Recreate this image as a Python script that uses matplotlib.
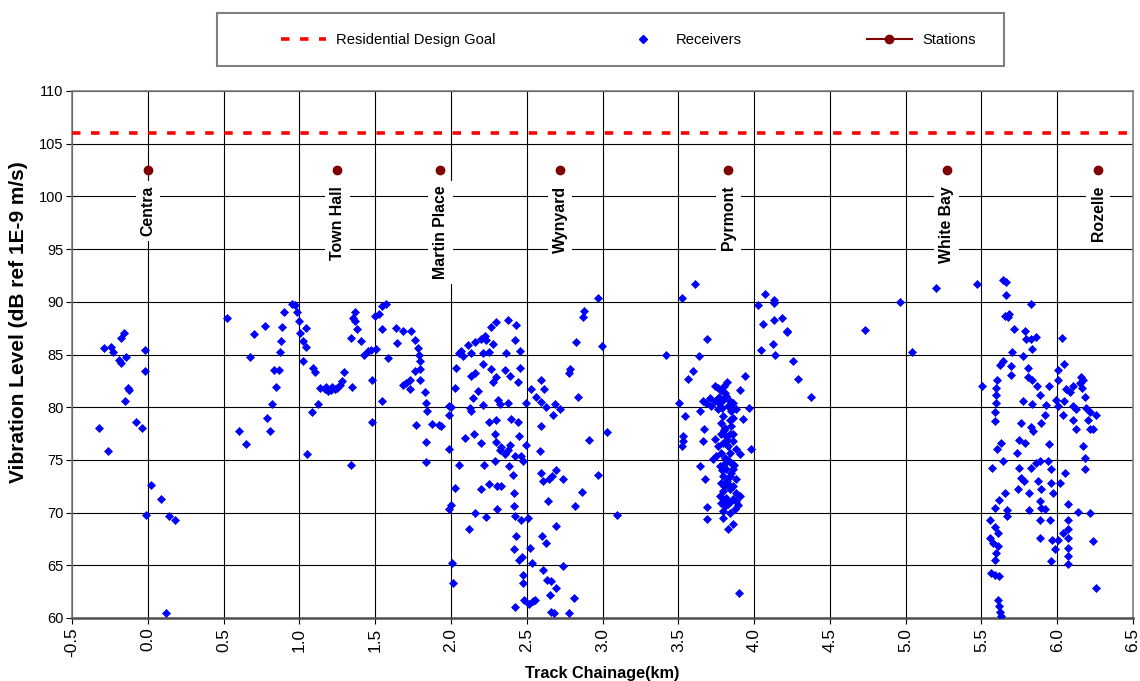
import numpy as np
import matplotlib
matplotlib.use("Agg")
import matplotlib.pyplot as plt
from matplotlib.lines import Line2D
from matplotlib.patches import Rectangle

plt.rcParams['font.family'] = ['Liberation Sans', 'DejaVu Sans']
plt.rcParams['lines.scale_dashes'] = False

# ---------------- data ----------------
design_goal = 106

station_names = ["Centra", "Town Hall", "Martin Place", "Wynyard", "Pyrmont", "White Bay", "Rozelle"]
station_x = [0.0, 1.25, 1.93, 2.72, 3.83, 5.27, 6.27]
station_y = [102.5, 102.5, 102.5, 102.5, 102.5, 102.5, 102.5]

x_ticks = [-0.5, 0.0, 0.5, 1.0, 1.5, 2.0, 2.5, 3.0, 3.5, 4.0, 4.5, 5.0, 5.5, 6.0, 6.5]
y_ticks = [60, 65, 70, 75, 80, 85, 90, 95, 100, 105, 110]

central_pts = [
    (-0.32, 78.0), (-0.26, 75.8), (-0.29, 85.6), (-0.245, 85.7), (-0.23, 85.2), (-0.19, 84.5),
    (-0.175, 84.2), (-0.146, 84.8), (-0.18, 86.6), (-0.16, 87.0), (-0.13, 81.8), (-0.126, 81.6),
    (-0.15, 80.6), (-0.075, 78.6), (-0.036, 78.0), (-0.02, 85.4), (-0.02, 83.4), (0.024, 72.6),
    (0.09, 71.3), (-0.01, 69.8), (0.14, 69.7), (0.177, 69.3), (0.118, 60.5),
]

townhall_pts = [
    (0.52, 88.5), (0.60, 77.7), (0.646, 76.5), (0.672, 84.8), (0.70, 86.9), (0.774, 87.75),
    (0.787, 79.0), (0.804, 77.7), (0.822, 80.3), (0.848, 81.9), (0.833, 83.5), (0.864, 83.5),
    (0.875, 85.2), (0.88, 86.3), (0.888, 87.6), (0.897, 89.0), (0.952, 89.8), (0.974, 89.7),
    (0.985, 89.0), (0.998, 88.2), (1.007, 87.0), (1.024, 86.3), (1.046, 85.7), (1.046, 87.5),
    (1.024, 84.4), (1.09, 83.7), (1.106, 83.3), (1.049, 75.6), (1.086, 79.5), (1.123, 80.3),
    (1.139, 81.84), (1.167, 81.68), (1.189, 81.52), (1.211, 81.6), (1.233, 81.7), (1.249, 81.8),
    (1.266, 82.1), (1.284, 82.5), (1.293, 83.3), (1.218, 81.9), (1.178, 81.9), (1.346, 81.9),
    (1.339, 74.5), (1.339, 86.6), (1.354, 88.5), (1.365, 89.0), (1.383, 87.4), (1.37, 88.2),
    (1.405, 86.3), (1.427, 85.0), (1.453, 85.3), (1.475, 85.4), (1.504, 85.5), (1.48, 82.6),
    (1.48, 78.6), (1.497, 88.7), (1.526, 88.8), (1.544, 89.6), (1.57, 89.75), (1.548, 87.4),
    (1.585, 84.7), (1.548, 80.6), (1.64, 87.5), (1.645, 86.1), (1.685, 87.2), (1.739, 87.2),
    (1.761, 86.4), (1.783, 85.6), (1.79, 85.0), (1.795, 84.4), (1.761, 83.4), (1.795, 83.6),
    (1.795, 82.6), (1.73, 82.6), (1.684, 82.1), (1.706, 82.3), (1.728, 81.7), (1.827, 81.4),
    (1.838, 80.4), (1.843, 79.6), (1.768, 78.3), (1.876, 78.4), (1.92, 78.3), (1.934, 78.2),
    (1.834, 76.7), (1.834, 74.8),
]

wynyard_pts = [
    (1.985, 80.1), (1.99, 79.3), (1.985, 76.0), (1.985, 70.35),
    (2.377, 88.3), (2.432, 87.8), (2.30, 88.1), (2.267, 87.6), (2.223, 86.8), (2.201, 86.5),
    (2.234, 86.4), (2.157, 86.2), (2.113, 85.9), (2.278, 86.0), (2.421, 86.4), (2.069, 85.3),
    (2.054, 85.1), (2.08, 84.9), (2.135, 85.1), (2.212, 85.1), (2.251, 85.2), (2.366, 85.1),
    (2.458, 85.3), (2.212, 84.1), (2.036, 83.7), (2.267, 83.6), (2.355, 83.5), (2.388, 83.0),
    (2.454, 83.7), (2.135, 83.0), (2.157, 83.2), (2.30, 82.9), (2.278, 82.4), (2.443, 82.4),
    (2.025, 81.8), (2.179, 81.5), (2.146, 80.9), (2.311, 80.7), (2.322, 80.3), (2.377, 80.4),
    (2.212, 80.2), (2.003, 80.0), (2.124, 79.9), (2.135, 79.6), (2.597, 82.6), (2.614, 81.7),
    (2.531, 81.7), (2.559, 81.0), (2.597, 80.5), (2.498, 80.4), (2.63, 80.0), (2.251, 78.6),
    (2.30, 78.8), (2.399, 78.9), (2.443, 78.6), (2.091, 77.1), (2.15, 77.5), (2.196, 76.6),
    (2.289, 77.5), (2.30, 76.7), (2.333, 76.2), (2.388, 76.4), (2.449, 77.3), (2.498, 76.4),
    (2.597, 78.2), (2.586, 75.8), (2.322, 75.9), (2.355, 75.6), (2.377, 75.9), (2.421, 75.4),
    (2.465, 75.4),
    (2.0, 70.7), (2.004, 65.2), (2.015, 63.3), (2.029, 72.3), (2.05, 74.5), (2.117, 68.4),
    (2.16, 70.0), (2.198, 72.2), (2.231, 69.6), (2.216, 74.5), (2.253, 72.75), (2.29, 74.9),
    (2.301, 72.5), (2.306, 70.35), (2.33, 72.5), (2.385, 74.4), (2.411, 73.6), (2.418, 71.9),
    (2.418, 70.6), (2.418, 66.5), (2.425, 61.0), (2.425, 69.65), (2.429, 67.8), (2.451, 65.5),
    (2.462, 69.3), (2.468, 65.8), (2.473, 74.9), (2.477, 63.3), (2.477, 64.1), (2.484, 61.7),
    (2.506, 69.5), (2.512, 61.3), (2.523, 66.6), (2.535, 65.2), (2.539, 61.6), (2.557, 61.7),
    (2.594, 73.8), (2.6, 67.8), (2.605, 64.6), (2.609, 73.0), (2.627, 67.1), (2.633, 63.6),
    (2.638, 71.1), (2.645, 73.2), (2.651, 62.2), (2.662, 60.6), (2.662, 63.5), (2.668, 73.45),
    (2.68, 60.5), (2.69, 68.7), (2.692, 74.0), (2.692, 62.8), (2.737, 73.2), (2.741, 64.9),
    (2.781, 60.5), (2.814, 61.9), (2.818, 70.6), (2.862, 72.0), (2.968, 73.6), (3.093, 69.8),
    (2.671, 79.3), (2.686, 80.35), (2.72, 79.8), (2.776, 83.2), (2.785, 83.6), (2.836, 80.95),
    (2.825, 86.2), (2.869, 88.6), (2.88, 89.1), (2.908, 76.9), (2.972, 90.4), (2.996, 85.8),
    (3.027, 77.6), (3.42, 85.0),
]

pyrmont_pts = [
    (3.522, 90.4), (3.61, 91.7), (3.689, 86.5), (3.638, 84.85), (3.599, 83.4), (3.566, 82.7),
    (3.502, 80.4), (3.544, 79.2), (3.529, 76.8), (3.525, 76.3), (3.529, 77.3), (3.902, 62.4),
    (4.023, 89.7), (4.074, 90.7), (4.13, 90.2), (4.134, 89.9), (4.134, 88.3), (4.184, 88.5),
    (4.056, 87.85), (4.216, 87.2), (4.22, 87.1), (4.122, 86.0), (4.045, 85.4), (4.14, 85.0),
    (4.258, 84.4), (4.291, 82.7), (4.375, 81.0), (4.729, 87.3),
    (3.943, 83.0), (3.905, 81.6), (3.966, 79.9), (3.978, 76.0), (3.927, 78.9), (3.663, 80.6),
    (3.641, 79.6), (3.67, 77.9), (3.663, 76.8), (3.646, 74.4), (3.674, 73.2), (3.689, 70.5),
    (3.689, 69.4), (3.795, 69.5), (3.828, 68.4), (3.861, 68.9), (3.905, 71.6), (3.894, 70.7),
    (3.872, 70.3), (3.806, 70.6),
    (3.740, 82.05), (3.762, 81.83), (3.784, 81.61), (3.806, 81.36), (3.817, 81.04), (3.795, 80.73),
    (3.839, 80.57), (3.861, 80.41), (3.768, 80.41), (3.740, 80.57), (3.707, 80.88), (3.685, 80.41),
    (3.718, 80.09), (3.828, 80.09), (3.850, 79.62), (3.883, 79.84), (3.795, 79.15), (3.784, 78.52),
    (3.806, 78.04), (3.839, 78.83), (3.861, 78.99), (3.850, 78.20), (3.817, 77.26), (3.740, 76.94),
    (3.762, 76.31), (3.795, 76.62), (3.828, 76.31), (3.861, 76.78), (3.883, 75.99), (3.784, 75.68),
    (3.839, 75.68), (3.905, 75.52), (3.751, 75.36), (3.729, 75.05), (3.806, 74.73), (3.850, 74.73),
    (3.773, 74.42), (3.817, 74.10), (3.861, 74.10), (3.795, 73.47), (3.839, 73.47), (3.883, 73.15),
    (3.784, 72.84), (3.828, 72.68), (3.795, 72.05), (3.839, 72.21), (3.883, 71.89), (3.773, 71.58),
    (3.817, 71.42), (3.861, 71.26), (3.784, 70.95), (3.828, 70.79), (3.883, 71.10), (3.795, 70.16),
    (3.839, 70.00),
    (3.80, 77.8), (3.82, 76.9), (3.84, 77.5), (3.81, 75.2), (3.83, 75.0), (3.79, 74.0),
    (3.85, 73.8), (3.80, 72.5), (3.82, 73.0), (3.84, 71.0), (3.80, 71.2), (3.86, 72.5),
    (3.78, 77.5), (3.86, 77.5), (3.87, 74.5), (3.76, 79.8), (3.79, 79.9), (3.82, 82.4),
    (3.80, 82.0), (3.77, 81.0),
]

whitebay_pts = [
    (4.96, 90.0), (5.042, 85.2), (5.198, 91.3), (5.473, 91.7), (5.642, 92.1), (5.66, 91.9),
    (5.664, 90.6), (5.824, 89.75), (5.653, 88.7), (5.681, 88.8), (5.675, 88.6), (5.714, 87.4),
    (5.785, 87.2), (5.796, 86.5), (5.829, 86.5), (5.862, 86.7), (5.833, 85.5), (5.701, 85.2),
    (5.774, 84.9), (5.62, 84.05), (5.642, 84.4), (5.697, 83.9), (5.692, 83.1), (5.807, 83.7),
    (5.807, 82.9), (5.833, 82.6), (5.868, 82.0), (5.884, 81.2), (5.943, 82.0), (5.928, 80.25),
    (5.921, 79.3), (5.895, 78.5), (5.503, 82.05), (5.605, 82.6), (5.598, 81.8), (5.598, 81.2),
    (5.598, 80.4), (5.591, 79.5), (5.591, 78.7), (5.774, 80.6), (5.833, 80.3), (5.758, 78.5),
    (5.829, 78.1), (5.84, 77.7), (5.745, 76.9), (5.785, 76.6), (5.631, 76.6), (5.605, 76.0),
    (5.734, 75.7), (5.943, 76.5), (5.642, 74.9), (5.569, 74.2), (5.747, 74.2), (5.763, 73.3),
    (5.781, 73.0), (5.829, 74.2), (5.862, 74.7), (5.884, 74.9), (5.939, 74.9), (5.96, 74.1),
    (5.873, 73.0), (5.895, 72.2), (5.956, 72.8), (5.741, 72.2), (5.811, 71.9), (5.653, 71.9),
    (5.613, 71.2), (5.587, 70.4), (5.884, 71.1), (5.895, 70.4), (5.67, 70.2), (5.67, 69.7),
    (5.811, 70.2), (5.917, 70.3), (5.884, 69.3), (5.95, 69.3), (5.554, 69.3), (5.591, 68.6),
    (5.609, 68.1), (5.554, 67.6), (5.576, 67.1), (5.609, 66.8), (5.598, 66.2), (5.587, 65.5),
    (5.884, 67.6), (5.965, 67.4), (5.96, 65.4), (5.561, 64.3), (5.587, 64.1), (5.613, 64.0),
    (5.609, 61.7), (5.613, 61.1), (5.62, 60.6), (5.626, 60.2),
]

rozelle_pts = [
    (6.034, 86.6), (6.042, 84.1), (6.005, 83.5), (6.005, 82.6), (6.159, 82.9), (6.17, 82.6),
    (6.148, 82.3), (6.163, 81.8), (6.181, 81.0), (6.192, 79.9), (6.214, 79.5), (6.258, 79.3),
    (6.236, 77.9), (6.214, 77.9), (6.203, 78.8), (6.104, 82.0), (6.082, 81.4), (6.06, 81.7),
    (6.042, 80.6), (6.104, 80.1), (6.126, 79.8), (6.104, 78.8), (6.126, 77.9), (6.038, 79.3),
    (6.005, 80.1), (5.994, 80.7), (6.17, 76.3), (6.181, 75.2), (6.181, 74.1), (6.049, 73.8),
    (6.016, 72.8), (5.972, 71.9), (6.071, 70.8), (6.137, 70.1), (6.214, 70.0), (6.071, 69.3),
    (6.071, 68.4), (6.071, 67.6), (6.071, 66.6), (6.071, 65.9), (6.071, 65.1), (6.038, 68.1),
    (6.005, 67.4), (5.983, 66.5), (6.236, 67.3), (6.255, 62.8),
]

receiver_pts = central_pts + townhall_pts + wynyard_pts + pyrmont_pts + whitebay_pts + rozelle_pts
receiver_x = [p[0] for p in receiver_pts]
receiver_y = [p[1] for p in receiver_pts]

# ---------------- figure ----------------
W, H = 1140, 681
fig = plt.figure(figsize=(W / 100, H / 100), dpi=100)
ax = fig.add_axes([72 / W, 1 - 618 / H, 1061 / W, 527 / H])

red_dash = (0, (6.1, 7.6))

ax.axhline(design_goal, color='#FF0000', lw=2.6, linestyle=red_dash, zorder=3)
ax.plot(receiver_x, receiver_y, linestyle='none', marker='D', ms=4.3,
        color='#0000FF', mec='#0000FF', mew=0.5, zorder=4)
ax.plot(station_x, station_y, linestyle='none', marker='o', ms=6,
        color='#800000', zorder=5)

for name, sx in zip(station_names, station_x):
    ax.text(sx, 101.0, name, rotation=90, ha='center', va='top', fontsize=11.4,
            fontweight='bold', zorder=3.5,
            bbox=dict(boxstyle='square,pad=0.3', fc='white', ec='none'))

ax.set_xlim(-0.5, 6.5)
ax.set_ylim(60, 110)
ax.set_xticks(x_ticks)
ax.set_xticklabels([f"{v:.1f}" for v in x_ticks], rotation=90, fontsize=12.4)
ax.set_yticks(y_ticks)
ax.set_yticklabels([str(v) for v in y_ticks], fontsize=10.5)
ax.grid(True, color='black', lw=0.8)
ax.set_axisbelow(True)
ax.tick_params(direction='out', length=4, width=0.8, pad=2)
ax.tick_params(axis='x', pad=3)

for s in ax.spines.values():
    s.set_color('#808080')
    s.set_linewidth(1.2)
ax.spines['bottom'].set_color('#505050')
ax.spines['bottom'].set_linewidth(1.8)

ax.set_xlabel('Track Chainage(km)', fontsize=11.7, fontweight='bold')
ax.xaxis.set_label_coords(0.5, -0.0911)
ax.set_ylabel('Vibration Level (dB ref 1E-9 m/s)', fontsize=15, fontweight='bold')
ax.yaxis.set_label_coords(-0.041, 0.562)

# legend box
fig.patches.append(Rectangle((217 / W, 1 - 66 / H), 787 / W, 53 / H, transform=fig.transFigure,
                             fc='white', ec='#808080', lw=1.5, zorder=0))
handles = [
    Line2D([], [], color='#FF0000', lw=2.6, linestyle=red_dash),
    Line2D([], [], linestyle='none', marker='D', ms=4.3, color='#0000FF'),
    Line2D([], [], color='#800000', lw=1.5, marker='o', ms=6),
]
labels = ['Residential Design Goal', 'Receivers', 'Stations']
fig.legend(handles, labels, loc='center left', bbox_to_anchor=(281 / W, 1 - 40 / H),
           ncol=3, frameon=False, fontsize=10.6, handlelength=3.06, handletextpad=0.68,
           columnspacing=8.5, borderpad=0, borderaxespad=0, numpoints=1)

fig.savefig('out.png', dpi=100)
